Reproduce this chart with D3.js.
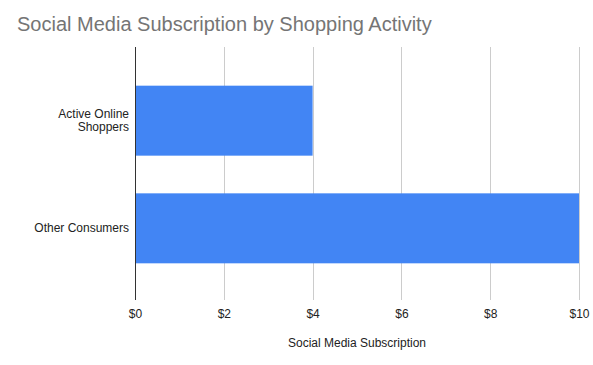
<!DOCTYPE html>
<html><head><meta charset="utf-8">
<script src="https://cdn.jsdelivr.net/npm/d3@7"></script>
<style>body{margin:0;background:#fff;font-family:"Liberation Sans",Arial,sans-serif;}</style>
</head><body>
<svg id="c" width="593" height="365"></svg>
<script>
const categories = ["Active Online Shoppers", "Other Consumers"];
const values = [4, 10];
const tickValues = [0, 2, 4, 6, 8, 10];
const tickLabels = ["$0", "$2", "$4", "$6", "$8", "$10"];

const svg = d3.select("#c");
const W = 593, H = 365;
const plotTop = 47, plotBottom = 300;
const x = d3.scaleLinear().domain([0,10]).range([135, 579]);
const y = d3.scaleBand().domain(categories).range([48, 301]).padding(0.35);

svg.append("rect").attr("width",W).attr("height",H).attr("fill","#fff");

svg.append("text").attr("x",17).attr("y",31).attr("font-size",20).attr("fill","#757575")
  .text("Social Media Subscription by Shopping Activity");

// gridlines
svg.append("g").selectAll("line").data(tickValues.slice(1)).join("line")
  .attr("x1",d=>Math.round(x(d))+0.5).attr("x2",d=>Math.round(x(d))+0.5)
  .attr("y1",plotTop).attr("y2",plotBottom).attr("stroke","#cccccc").attr("stroke-width",1);

// bars
svg.append("g").selectAll("rect").data(categories).join("rect")
  .attr("x",x(0)).attr("y",d=>y(d)).attr("height",y.bandwidth())
  .attr("width",(d,i)=>x(values[i])-x(0)).attr("fill","#4285f4");

// axis line
svg.append("line").attr("x1",x(0)+0.5).attr("x2",x(0)+0.5).attr("y1",plotTop).attr("y2",plotBottom)
  .attr("stroke","#333").attr("stroke-width",1);

// x tick labels
const xAxis = d3.axisBottom(x).tickValues(tickValues).tickFormat((d,i)=>tickLabels[i]).tickSize(0).tickPadding(0);
const gx = svg.append("g").attr("transform",`translate(0,${plotBottom+18})`).call(xAxis);
gx.select(".domain").remove();
gx.selectAll("text").attr("font-size",12).attr("fill","#222").attr("font-family","Liberation Sans, Arial, sans-serif").attr("dy",0);

// y labels
const lines = {"Active Online Shoppers":["Active Online","Shoppers"],"Other Consumers":["Other Consumers"]};
const gy = svg.append("g");
categories.forEach(c=>{
  const ls = lines[c];
  const cy = y(c)+y.bandwidth()/2;
  const t = gy.append("text").attr("x",129).attr("text-anchor","end").attr("font-size",12).attr("fill","#222");
  ls.forEach((l,i)=>{
    t.append("tspan").attr("x",129).attr("y", cy + 4 + (i - (ls.length-1)/2)*12.5).text(l);
  });
});

svg.append("text").attr("x",(x(0)+x(10))/2).attr("y",347).attr("text-anchor","middle")
  .attr("font-size",12).attr("fill","#222").text("Social Media Subscription");
</script>
</body></html>
